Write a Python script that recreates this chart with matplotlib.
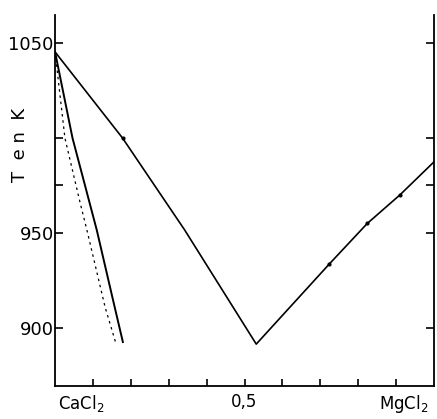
import matplotlib.pyplot as plt

# liquidus, CaCl2 -> eutectic -> MgCl2 (x = mole fraction MgCl2, T in K)
liq_x = [0.0, 0.178, 0.342, 0.531, 0.724, 0.824, 0.91, 1.0]
liq_t = [1045.3, 1000.0, 951.6, 891.5, 933.7, 955.0, 970.0, 987.4]
liq_marks_x = [0.178, 0.724, 0.824, 0.91]
liq_marks_t = [1000.0, 933.7, 955.0, 970.0]

# steep solid curve on the CaCl2 side
sol_x = [0.0, 0.046, 0.11, 0.153, 0.179]
sol_t = [1045.3, 1000.0, 951.6, 914.7, 892.6]

# dotted curve on the CaCl2 side
dot_x = [0.0, 0.026, 0.066, 0.084, 0.132, 0.161]
dot_t = [1045.3, 1000.0, 966.0, 951.6, 911.0, 891.6]

y_labeled = [1050, 950, 900]
y_plain = [1000, 975]
x_ticks = [0.1, 0.2, 0.3, 0.4, 0.6, 0.7, 0.8, 0.9]

fig = plt.figure(figsize=(4.37, 4.19), dpi=100)
ax = fig.add_axes([0.126, 0.079, 0.867, 0.885])

ax.plot(liq_x, liq_t, color="black", lw=1.2)
ax.plot(liq_marks_x, liq_marks_t, "o", color="black", ms=2)
ax.plot(sol_x, sol_t, color="black", lw=1.4)
ax.plot(dot_x, dot_t, color="black", lw=0.9, ls=(0, (2, 3)))

ax.set_xlim(0, 1)
ax.set_ylim(869.5, 1064.7)

ax.spines["top"].set_visible(False)
for s in ["left", "right", "bottom"]:
    ax.spines[s].set_linewidth(1.3)

ax.set_yticks(y_labeled + y_plain)
ax.set_yticklabels([str(v) for v in y_labeled] + ["", ""])
ax.tick_params(axis="y", direction="in", length=6, width=1.2, pad=1,
               labelsize=13, right=True)
ax.set_xticks(x_ticks + [0.5])
ax.set_xticklabels([])
ax.set_xticks([0.5], minor=True)
ax.tick_params(axis="x", which="major", direction="in", length=5, width=1.2)
ax.tick_params(axis="x", which="minor", direction="in", length=9, width=1.2)

ax.text(0.07, 866, "CaCl$_2$", ha="center", va="top", fontsize=12)
ax.text(0.5, 866, "0,5", ha="center", va="top", fontsize=12)
ax.text(0.92, 866, "MgCl$_2$", ha="center", va="top", fontsize=12)

fig.text(20 / 437, 1 - 145 / 419, "T  e n  K", rotation=90,
         ha="center", va="center", fontsize=13)

fig.savefig("out.png", dpi=100)
